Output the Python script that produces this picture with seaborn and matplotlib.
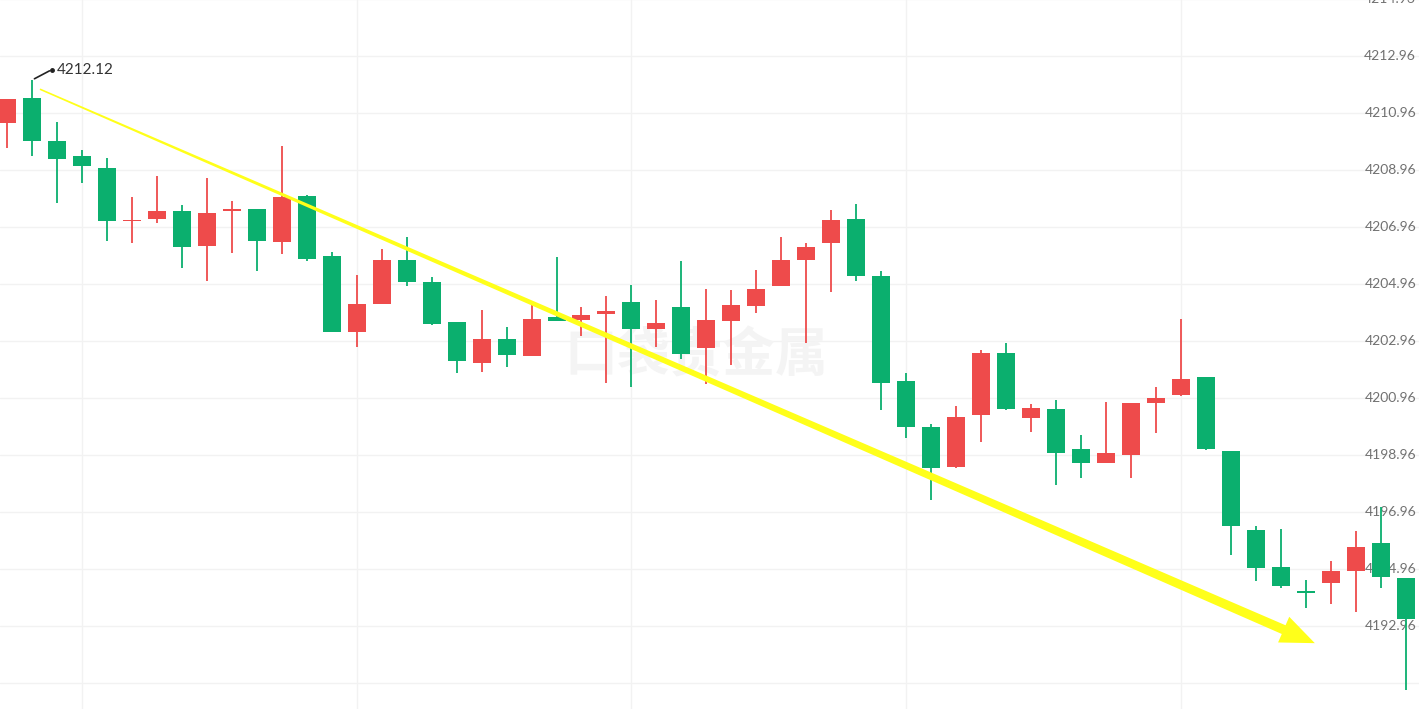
import numpy as np
import pandas as pd
import matplotlib.pyplot as plt
import seaborn as sns
from matplotlib.patches import Polygon
from matplotlib.transforms import IdentityTransform

sns.set_theme(style="white")
plt.rcParams["font.family"] = ["Lato", "Noto Sans CJK SC", "DejaVu Sans"]

# candle data
opens = [4210.61, 4211.49, 4209.99, 4209.45, 4209.03, 4207.16, 4207.23, 4207.53, 4206.28, 4207.52,
         4207.58, 4206.44, 4208.05, 4205.94, 4203.29, 4204.27, 4205.80, 4205.03, 4203.63, 4202.18,
         4203.04, 4202.44, 4203.79, 4203.70, 4203.90, 4204.32, 4203.39, 4204.15, 4202.71, 4203.67,
         4204.20, 4204.91, 4205.81, 4206.42, 4207.24, 4205.25, 4201.57, 4199.94, 4198.53, 4200.35,
         4202.56, 4200.27, 4200.58, 4199.18, 4198.68, 4198.98, 4200.78, 4201.08, 4201.70, 4199.09,
         4196.34, 4195.02, 4194.16, 4194.47, 4194.90, 4195.87, 4194.65]
highs = [4211.45, 4212.12, 4210.64, 4209.66, 4209.38, 4208.01, 4208.75, 4207.73, 4208.67, 4207.87,
         4207.60, 4209.80, 4208.08, 4206.09, 4205.28, 4206.19, 4206.60, 4205.22, 4203.63, 4204.05,
         4203.44, 4204.22, 4205.90, 4204.14, 4204.54, 4204.93, 4204.40, 4205.77, 4204.80, 4204.76,
         4205.45, 4206.60, 4206.42, 4207.56, 4207.77, 4205.42, 4201.85, 4200.04, 4200.68, 4202.64,
         4202.91, 4200.76, 4200.89, 4199.67, 4200.81, 4200.78, 4201.34, 4203.74, 4201.70, 4199.09,
         4196.47, 4196.36, 4194.56, 4195.24, 4196.29, 4197.15, 4194.65]
lows = [4209.73, 4209.46, 4207.80, 4208.50, 4206.47, 4206.42, 4207.09, 4205.51, 4205.08, 4206.04,
        4205.43, 4206.00, 4205.78, 4203.28, 4202.74, 4204.27, 4204.89, 4203.53, 4201.83, 4201.86,
        4202.04, 4202.44, 4203.66, 4203.15, 4201.48, 4201.36, 4202.75, 4202.32, 4201.44, 4202.13,
        4203.93, 4204.91, 4202.88, 4204.68, 4205.08, 4200.54, 4199.55, 4197.38, 4198.50, 4199.41,
        4200.54, 4199.76, 4197.91, 4198.14, 4198.68, 4198.14, 4199.72, 4201.02, 4199.15, 4195.46,
        4194.54, 4194.29, 4193.58, 4193.73, 4193.44, 4194.30, 4190.71]
closes = [4211.45, 4209.97, 4209.34, 4209.10, 4207.16, 4207.20, 4207.52, 4206.27, 4207.45, 4207.60,
          4206.46, 4208.01, 4205.85, 4203.28, 4204.27, 4205.81, 4205.04, 4203.55, 4202.25, 4203.03,
          4202.47, 4203.72, 4203.67, 4203.88, 4204.01, 4203.39, 4203.59, 4202.50, 4203.70, 4204.21,
          4204.78, 4205.79, 4206.25, 4207.20, 4205.24, 4201.50, 4199.94, 4198.51, 4200.30, 4202.53,
          4200.56, 4200.63, 4199.03, 4198.69, 4199.02, 4200.78, 4200.95, 4201.62, 4199.17, 4196.47,
          4195.01, 4194.37, 4194.12, 4194.89, 4195.72, 4194.69, 4193.21]

y_ticks = [4192.96, 4194.96, 4196.96, 4198.96, 4200.96, 4202.96, 4204.96,
           4206.96, 4208.96, 4210.96, 4212.96, 4214.96]
high_label = "4212.12"
watermark = "口袋贵金属"

# trend arrow: (candle index, price) start and tip
arrow_start = (1.32, 4211.80)
arrow_tip = (52.36, 4192.36)

up_color = "#EE4B4B"
down_color = "#0BAF6E"

df = pd.DataFrame({"open": opens, "high": highs, "low": lows, "close": closes})
df["idx"] = np.arange(len(df))
df["color"] = np.where(df["close"] >= df["open"], up_color, down_color)
df["bottom"] = df[["open", "close"]].min(axis=1)
df["height"] = (df["open"] - df["close"]).abs().clip(lower=0.06)

fig = plt.figure(figsize=(14.19, 7.09), dpi=100)
ax = fig.add_axes([0, 0, 1, 1])
ax.set_xlim(-0.28, 56.53)
ax.set_ylim(4190.05, 4214.93)

# grid
for t in [4190.96] + y_ticks:
    ax.axhline(t, color="#f2f2f2", lw=1, zorder=0)
for i in range(3, len(df), 11):
    ax.axvline(i, color="#f2f2f2", lw=1, zorder=0)

# watermark
ax.text(27.6, 4202.45, watermark, fontsize=38, fontweight="bold", color="#f4f4f4",
        ha="center", va="center", family=["Noto Sans CJK SC"], zorder=0.5)

# y labels (drawn inside the plot, under the candles)
for t in y_ticks:
    ax.text(0.998, t, f"{t:.2f}", transform=ax.get_yaxis_transform(), ha="right",
            va="center", fontsize=10, color="#707070", zorder=1)

# candles
ax.vlines(df["idx"], df["low"], df["high"], colors=df["color"], lw=1.3, zorder=3)
ax.bar(df["idx"], df["height"], bottom=df["bottom"], width=0.72, color=df["color"],
       edgecolor="none", zorder=4)

# highest price label
hi = int(df["high"].idxmax())
hx, hy = df.loc[hi, "idx"], df.loc[hi, "high"]
ax.annotate("", xy=(hx + 0.8, hy + 0.37), xytext=(hx, hy),
            arrowprops=dict(arrowstyle="-", color="#222222", lw=1.2), zorder=5)
ax.plot(hx + 0.8, hy + 0.37, "o", ms=2.5, color="#222222", zorder=5)
ax.text(hx + 1.0, hy + 0.37, high_label, fontsize=11, color="#333333",
        ha="left", va="center", zorder=5)

# tapered yellow trend arrow (built in pixel space so it keeps its shape)
s = ax.transData.transform(arrow_start)
t = ax.transData.transform(arrow_tip)
u = (t - s) / np.linalg.norm(t - s)
n = np.array([-u[1], u[0]])
head_len, head_half, w0, w1 = 34, 14, 1.6, 9.5
b = t - u * head_len
pts = [s + n * w0 / 2, b + n * w1 / 2, b + n * head_half, t,
       b - n * head_half, b - n * w1 / 2, s - n * w0 / 2]
ax.add_patch(Polygon(pts, closed=True, facecolor="#FFFF1A", edgecolor="none",
                     transform=IdentityTransform(), zorder=6))

ax.set_xticks([])
ax.set_yticks([])
for sp in ax.spines.values():
    sp.set_visible(False)

fig.savefig("out.png", dpi=100)
